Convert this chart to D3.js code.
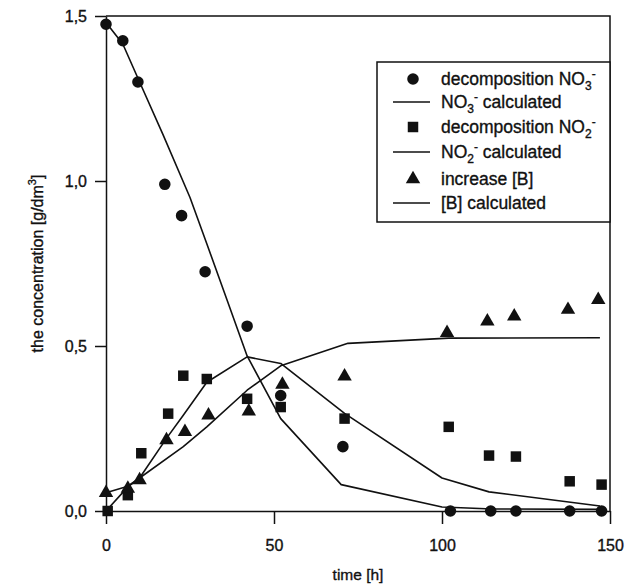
<!DOCTYPE html>
<html>
<head>
<meta charset="utf-8">
<script src="https://cdn.jsdelivr.net/npm/d3@7"></script>
<style>
  body { margin: 0; background: #fff; }
  text { font-family: "Liberation Sans", Arial, sans-serif; fill: #111; stroke: #111; stroke-width: 0.35; }
</style>
</head>
<body>
<div id="chart"></div>
<script>
// measured points
var timeNO3 = [0, 5, 9.5, 17.5, 22.5, 29.5, 42, 52, 70.5, 102.5, 114.5, 122, 138, 147.5];
var valNO3 = [1.475, 1.425, 1.30, 0.99, 0.895, 0.725, 0.56, 0.35, 0.195, 0, 0, 0, 0, 0];

var timeNO2 = [0.5, 6.5, 10.5, 18.5, 23, 30, 42, 52, 71, 102, 114, 122, 138, 147.5];
var valNO2 = [0, 0.048, 0.175, 0.295, 0.41, 0.40, 0.34, 0.315, 0.28, 0.255, 0.168, 0.165, 0.09, 0.08];

var timeB = [0, 6.5, 10, 18, 23.5, 30.5, 42.5, 52.5, 71, 101.5, 113.5, 121.5, 137.5, 146.5];
var valB = [0.055, 0.068, 0.094, 0.215, 0.24, 0.29, 0.302, 0.383, 0.408, 0.54, 0.575, 0.59, 0.61, 0.64];

// calculated curves
var calcTimeNO3 = [0, 5, 10, 17, 25, 30, 36, 42, 52, 70, 100, 115, 148];
var calcNO3 = [1.48, 1.415, 1.30, 1.14, 0.95, 0.81, 0.64, 0.47, 0.28, 0.08, 0.012, 0.006, 0.005];

var calcTimeNO2 = [0, 6.5, 10, 18, 23, 30, 42, 52, 71, 100, 114, 147];
var calcNO2 = [0, 0.073, 0.1, 0.22, 0.29, 0.39, 0.467, 0.447, 0.296, 0.1, 0.058, 0.015];

var calcTimeB = [0, 6.5, 10, 23, 30, 42, 52, 72, 102, 147];
var calcB = [0.055, 0.075, 0.1, 0.195, 0.255, 0.366, 0.44, 0.508, 0.524, 0.525];

var xTicks = [0, 50, 100, 150];
var yTicks = [0, 0.5, 1.0, 1.5];

var width = 634, height = 585;
var plotLeft = 106, plotRight = 610, plotTop = 16, plotBottom = 511;
var ink = "#111";

var svg = d3.select("#chart").append("svg")
    .attr("width", width)
    .attr("height", height);

var xScale = d3.scaleLinear().domain([0, 150]).range([plotLeft, plotRight]);
var yScale = d3.scaleLinear().domain([0, 1.5]).range([plotBottom, plotTop]);

function zip(ts, vs) {
  return ts.map(function(t, i) { return {t: t, v: vs[i]}; });
}

// axes
var xAxis = d3.axisBottom(xScale).tickValues(xTicks).tickSizeInner(13).tickSizeOuter(0).tickPadding(16);
var yAxis = d3.axisLeft(yScale).tickValues(yTicks).tickSizeInner(11).tickSizeOuter(0).tickPadding(8)
    .tickFormat(function(d) { return d3.format(".1f")(d).replace(".", ","); });

var gx = svg.append("g").attr("transform", "translate(0," + plotBottom + ")").call(xAxis);
var gy = svg.append("g").attr("transform", "translate(" + plotLeft + ",0)").call(yAxis);
[gx, gy].forEach(function(g) {
  g.selectAll("path, line").attr("stroke", ink).attr("stroke-width", 1.5);
  g.selectAll("text").attr("font-size", 16).attr("fill", ink)
    .style("font-family", "'Liberation Sans', Arial, sans-serif");
});

// frame top and right
svg.append("path")
    .attr("d", "M" + plotLeft + "," + plotTop + "H" + plotRight + "V" + plotBottom)
    .attr("fill", "none").attr("stroke", ink).attr("stroke-width", 1.5);

// axis titles
svg.append("text")
    .attr("x", (plotLeft + plotRight) / 2).attr("y", 580)
    .attr("text-anchor", "middle").attr("font-size", 15.5)
    .text("time [h]");

var yl = svg.append("text")
    .attr("transform", "translate(43," + ((plotTop + plotBottom) / 2) + ") rotate(-90)")
    .attr("text-anchor", "middle").attr("font-size", 16);
yl.append("tspan").text("the concentration [g/dm");
yl.append("tspan").attr("dy", -7).attr("font-size", 11).text("3");
yl.append("tspan").attr("dy", 7).text("]");

// calculated lines
var line = d3.line()
    .x(function(d) { return xScale(d.t); })
    .y(function(d) { return yScale(d.v); });

[[calcTimeNO3, calcNO3], [calcTimeNO2, calcNO2], [calcTimeB, calcB]].forEach(function(s) {
  svg.append("path")
      .datum(zip(s[0], s[1]))
      .attr("d", line)
      .attr("fill", "none")
      .attr("stroke", ink)
      .attr("stroke-width", 1.6)
      .attr("stroke-linejoin", "round");
});

// markers
var circleSym = d3.symbol().type(d3.symbolCircle).size(105);
var squareSym = d3.symbol().type(d3.symbolSquare).size(110);
var triSym = d3.symbol().type(d3.symbolTriangle).size(90);

function drawPoints(data, sym) {
  svg.append("g").selectAll("path")
      .data(data).enter()
      .append("path")
      .attr("d", sym)
      .attr("transform", function(d) {
        return "translate(" + xScale(d.t) + "," + yScale(d.v) + ")";
      })
      .attr("fill", ink);
}
drawPoints(zip(timeNO3, valNO3), circleSym);
drawPoints(zip(timeNO2, valNO2), squareSym);
drawPoints(zip(timeB, valB), triSym);

// legend
var lg = svg.append("g");
lg.append("rect")
    .attr("x", 377).attr("y", 62)
    .attr("width", plotRight - 377).attr("height", 160)
    .attr("fill", "#fff").attr("stroke", ink).attr("stroke-width", 1.5);

var rowsY = [79, 102, 127, 152, 179, 203];
var symX = 413, textX = 441;

function addLabel(y, parts) {
  var t = lg.append("text").attr("x", textX).attr("y", y + 6).attr("font-size", 17.5);
  parts.forEach(function(p) {
    var s = t.append("tspan").text(p[0]);
    if (p[1] === "sub") s.attr("dy", 5).attr("font-size", 12);
    if (p[1] === "sup") s.attr("dy", -12).attr("font-size", 12);
    if (p[1] === "back") s.attr("dy", 7);
  });
}

lg.append("path").attr("d", circleSym).attr("transform", "translate(" + symX + "," + rowsY[0] + ")").attr("fill", ink);
lg.append("path").attr("d", squareSym).attr("transform", "translate(" + symX + "," + rowsY[2] + ")").attr("fill", ink);
lg.append("path").attr("d", triSym).attr("transform", "translate(" + symX + "," + rowsY[4] + ")").attr("fill", ink);
[rowsY[1], rowsY[3], rowsY[5]].forEach(function(y) {
  lg.append("line").attr("x1", 393).attr("x2", 430).attr("y1", y).attr("y2", y)
      .attr("stroke", ink).attr("stroke-width", 1.6);
});

addLabel(rowsY[0], [["decomposition NO"], ["3", "sub"], ["-", "sup"]]);
addLabel(rowsY[1], [["NO"], ["3", "sub"], ["-", "sup"], [" calculated", "back"]]);
addLabel(rowsY[2], [["decomposition NO"], ["2", "sub"], ["-", "sup"]]);
addLabel(rowsY[3], [["NO"], ["2", "sub"], ["-", "sup"], [" calculated", "back"]]);
addLabel(rowsY[4], [["increase [B]"]]);
addLabel(rowsY[5], [["[B] calculated"]]);
</script>
</body>
</html>
